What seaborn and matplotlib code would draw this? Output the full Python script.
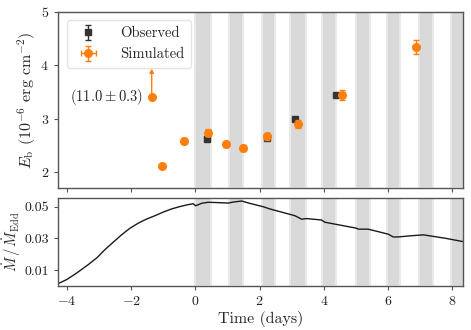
import numpy as np
import pandas as pd
import matplotlib
matplotlib.use("Agg")
import matplotlib.pyplot as plt
import seaborn as sns

# ---------------- data ----------------
obs_t = [0.35, 2.23, 3.11, 4.37]
obs_E = [2.62, 2.64, 2.99, 3.45]
obs_err = [0.02, 0.02, 0.02, 0.02]

sim_t = [-1.36, -1.03, -0.35, 0.39, 0.95, 1.49, 2.22, 3.20, 4.58, 6.86]
sim_E = [3.40, 2.12, 2.58, 2.74, 2.53, 2.45, 2.67, 2.90, 3.44, 4.34]
sim_yerr = [0.0, 0.04, 0.06, 0.07, 0.06, 0.06, 0.06, 0.07, 0.09, 0.13]
sim_xerr = [0.0, 0.03, 0.03, 0.03, 0.03, 0.03, 0.03, 0.03, 0.03, 0.03]
outlier_label = r"$(11.0 \pm 0.3)$"
arrow_top = 3.94

band_start = [0.00, 1.04, 2.09, 2.94, 3.94, 4.99, 5.96, 6.96, 7.96]
band_end = [0.48, 1.49, 2.48, 3.46, 4.38, 5.44, 6.37, 7.41, 8.50]

mdot_t = [-4.29, -4.00, -3.70, -3.34, -3.05, -2.82, -2.55, -2.30, -2.05, -1.78, -1.52,
          -1.26, -1.00, -0.74, -0.50, -0.25, -0.07,
          0.01, 0.20, 0.40, 0.70, 1.02, 1.20, 1.44, 1.70, 2.11, 2.32, 2.48,
          2.94, 3.10, 3.31, 3.46, 3.93, 4.03, 4.50, 5.02, 5.07, 5.38, 5.70,
          6.01, 6.16, 6.32, 6.70, 7.10, 7.36, 7.80, 8.32]
mdot_v = [0.0012, 0.0040, 0.0080, 0.0133, 0.0180, 0.0228, 0.0277, 0.0322, 0.0362, 0.0396, 0.0422,
          0.0443, 0.0466, 0.0486, 0.0500, 0.0512, 0.0519,
          0.0506, 0.0522, 0.0528, 0.0526, 0.0523, 0.0530, 0.0536, 0.0521, 0.0500, 0.0486, 0.0477,
          0.0452, 0.0443, 0.0421, 0.0425, 0.0416, 0.0402, 0.0384, 0.0364, 0.0358, 0.0358, 0.0342,
          0.0326, 0.0309, 0.0309, 0.0316, 0.0322, 0.0314, 0.0300, 0.0280]

# ---------------- style ----------------
sns.set_style("ticks")
plt.rcParams["font.family"] = ["cmr10", "DejaVu Serif"]
plt.rcParams["mathtext.fontset"] = "cm"
plt.rcParams["axes.formatter.use_mathtext"] = True
plt.rcParams["font.size"] = 10
plt.rcParams["axes.edgecolor"] = "#555555"
plt.rcParams["xtick.color"] = "#555555"
plt.rcParams["ytick.color"] = "#555555"
plt.rcParams["xtick.labelcolor"] = "#222222"
plt.rcParams["ytick.labelcolor"] = "#222222"
plt.rcParams["axes.unicode_minus"] = True

orange = "#ff7f0e"
dark = "#333333"

fig = plt.figure(figsize=(4.71, 3.30), dpi=100)
ax1 = fig.add_axes([0.123, 0.430, 0.859, 0.534])
ax2 = fig.add_axes([0.123, 0.134, 0.859, 0.265], sharex=ax1)

for ax in (ax1, ax2):
    for s, e in zip(band_start, band_end):
        ax.axvspan(s, e, facecolor="#d9d9d9", edgecolor="#e9e9e9", linewidth=1.5, zorder=0)

# top panel
ax1.errorbar(obs_t, obs_E, yerr=obs_err, fmt="s", color=dark, ms=4.5, capsize=2,
             elinewidth=1, label="Observed", zorder=3)
ax1.errorbar(sim_t, sim_E, yerr=sim_yerr, xerr=sim_xerr, fmt="o", color=orange, ms=5.5,
             capsize=2, elinewidth=1, label="Simulated", zorder=4)
ax1.annotate("", xy=(sim_t[0], arrow_top), xytext=(sim_t[0], sim_E[0]),
             arrowprops=dict(arrowstyle="-|>", color=orange, lw=1, mutation_scale=6,
                             shrinkA=0, shrinkB=0), zorder=4)
ax1.annotate(outlier_label, xy=(sim_t[0], sim_E[0]), xytext=(-6, 0),
             textcoords="offset points", ha="right", va="center", fontsize=10.5)

ax1.set_ylim(1.7, 5.0)
ax1.set_yticks([2, 3, 4, 5])
ax1.set_ylabel(r"$E_{\rm b}$ $(10^{-6}$ erg cm$^{-2})$", fontsize=11.5, labelpad=2)
ax1.tick_params(axis="x", labelbottom=False)
leg = ax1.legend(loc="upper left", frameon=True, fancybox=True, fontsize=10.5,
                 borderpad=0.45, handletextpad=1.2, bbox_to_anchor=(0.005, 0.995))
leg.get_frame().set_edgecolor("#dddddd")

# bottom panel
df = pd.DataFrame({"t": mdot_t, "m": mdot_v})
sns.lineplot(data=df, x="t", y="m", ax=ax2, color="#1a1a1a", lw=1.0)
ax2.set_ylim(0.0, 0.0553)
ax2.set_yticks([0.01, 0.03, 0.05])
ax2.set_yticklabels(["0.01", "0.03", "0.05"])
ax2.set_ylabel(r"$\dot{M}\,/\,\dot{M}_{\rm Edd}$", fontsize=10.5, labelpad=1)
ax2.set_xlabel("Time (days)", fontsize=11.5, labelpad=2)
ax2.set_xlim(-4.28, 8.32)
ax2.set_xticks([-4, -2, 0, 2, 4, 6, 8])

for ax in (ax1, ax2):
    for sp in ax.spines.values():
        sp.set_visible(True)
        sp.set_linewidth(1.0)
    ax.tick_params(length=3, width=0.8, labelsize=10)

fig.savefig("out.png", dpi=100)
